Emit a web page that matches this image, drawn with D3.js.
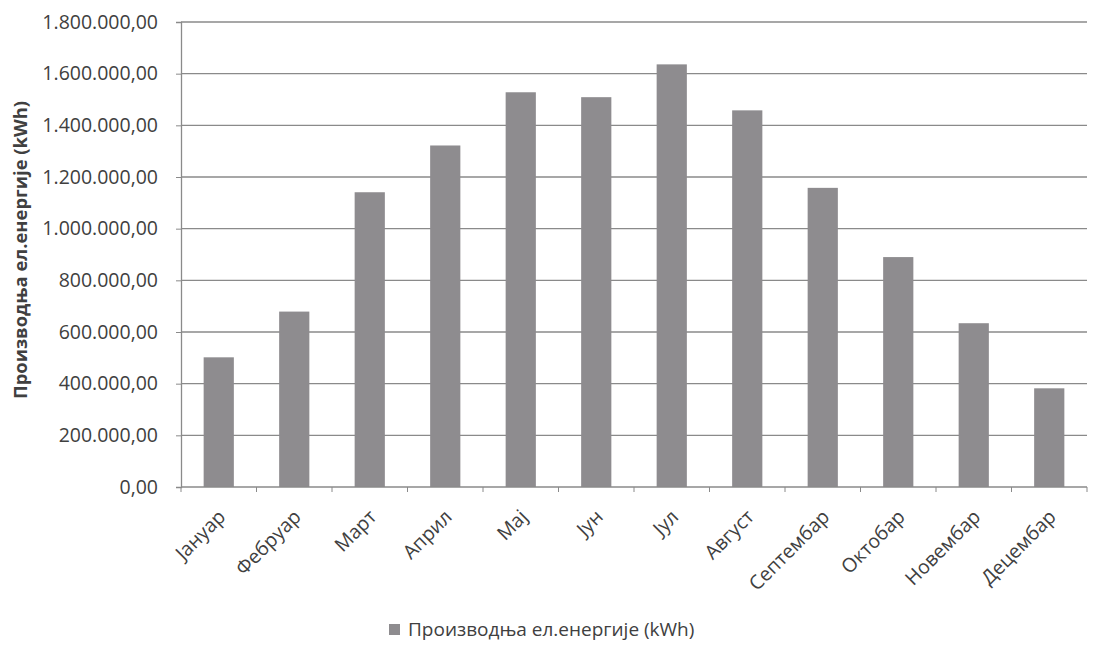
<!DOCTYPE html>
<html><head><meta charset="utf-8">
<script src="https://cdn.jsdelivr.net/npm/d3@7"></script>
<style>
body{margin:0;background:#fff;}
text{font-family:"Open Sans",sans-serif;fill:#404040;}
</style></head><body>
<svg id="c" width="1104" height="654"></svg>
<script>
const months = ["Јануар","Фебруар","Март","Април","Мај","Јун","Јул","Август","Септембар","Октобар","Новембар","Децембар"];
const production = [502000,679000,1141000,1322000,1528000,1509000,1636000,1458000,1158000,890000,634000,382000];
const yTicks = [0,200000,400000,600000,800000,1000000,1200000,1400000,1600000,1800000];
const seriesName = "Производња ел.енергије (kWh)";
const yTitle = "Производња ел.енергије (kWh)";

const svg = d3.select("#c");
const pLeft = 181, pRight = 1087, pTop = 22, pBottom = 487;
const x = d3.scaleBand().domain(months).range([pLeft,pRight]).paddingInner(0.6).paddingOuter(0.3);
const y = d3.scaleLinear().domain([0,1800000]).range([pBottom,pTop]);
const loc = d3.formatLocale({decimal:",",thousands:".",grouping:[3],currency:["",""]});
const fmt = v => loc.format(",.2f")(v);

// gridlines
svg.append("g").selectAll("line").data(yTicks.filter(d=>d>0)).join("line")
  .attr("x1",pLeft).attr("x2",pRight).attr("y1",d=>y(d)).attr("y2",d=>y(d))
  .attr("stroke","#8a8a8a").attr("stroke-width",1.3);

// bars
svg.append("g").selectAll("rect").data(months).join("rect")
  .attr("x",d=>x(d)).attr("width",x.bandwidth())
  .attr("y",(d,i)=>y(production[i])).attr("height",(d,i)=>pBottom-y(production[i]))
  .attr("fill","#8e8c8f");

// y axis
const ya = svg.append("g").attr("transform",`translate(${pLeft},0)`)
  .call(d3.axisLeft(y).tickValues(yTicks).tickFormat(fmt).tickSize(5).tickPadding(18));
ya.select(".domain").attr("stroke","#8a8a8a").attr("stroke-width",1.3);
ya.selectAll(".tick line").attr("stroke","#8a8a8a");
ya.selectAll(".tick text").style("font-size","19.5px").attr("fill","#404040").style("font-family","'Open Sans',sans-serif");

// x axis
const xa = svg.append("g").attr("transform",`translate(0,${pBottom})`);
xa.append("line").attr("x1",pLeft).attr("x2",pRight).attr("y1",0).attr("y2",0).attr("stroke","#8a8a8a").attr("stroke-width",1.3);
const bounds = d3.range(months.length+1).map(i=>pLeft + i*(pRight-pLeft)/months.length);
xa.selectAll(".xt").data(bounds).join("line").attr("class","xt")
  .attr("x1",d=>d).attr("x2",d=>d).attr("y1",0).attr("y2",5).attr("stroke","#8a8a8a");
xa.selectAll(".xl").data(months).join("text").attr("class","xl")
  .attr("transform",d=>`translate(${x(d)+x.bandwidth()/2+8},${31}) rotate(-45)`)
  .attr("text-anchor","end").style("font-size","19.5px").text(d=>d);

// y title
svg.append("text").attr("transform",`translate(27,${250}) rotate(-90)`)
  .attr("text-anchor","middle").style("font-size","18.4px").style("font-weight","bold").text(yTitle);

// legend
const lg = svg.append("g").attr("transform","translate(389,624)");
lg.append("rect").attr("width",11).attr("height",11).attr("fill","#8e8c8f");
lg.append("text").attr("x",19).attr("y",5.5).attr("dy","0.35em").style("font-size","19px").text(seriesName);
</script>
</body></html>
